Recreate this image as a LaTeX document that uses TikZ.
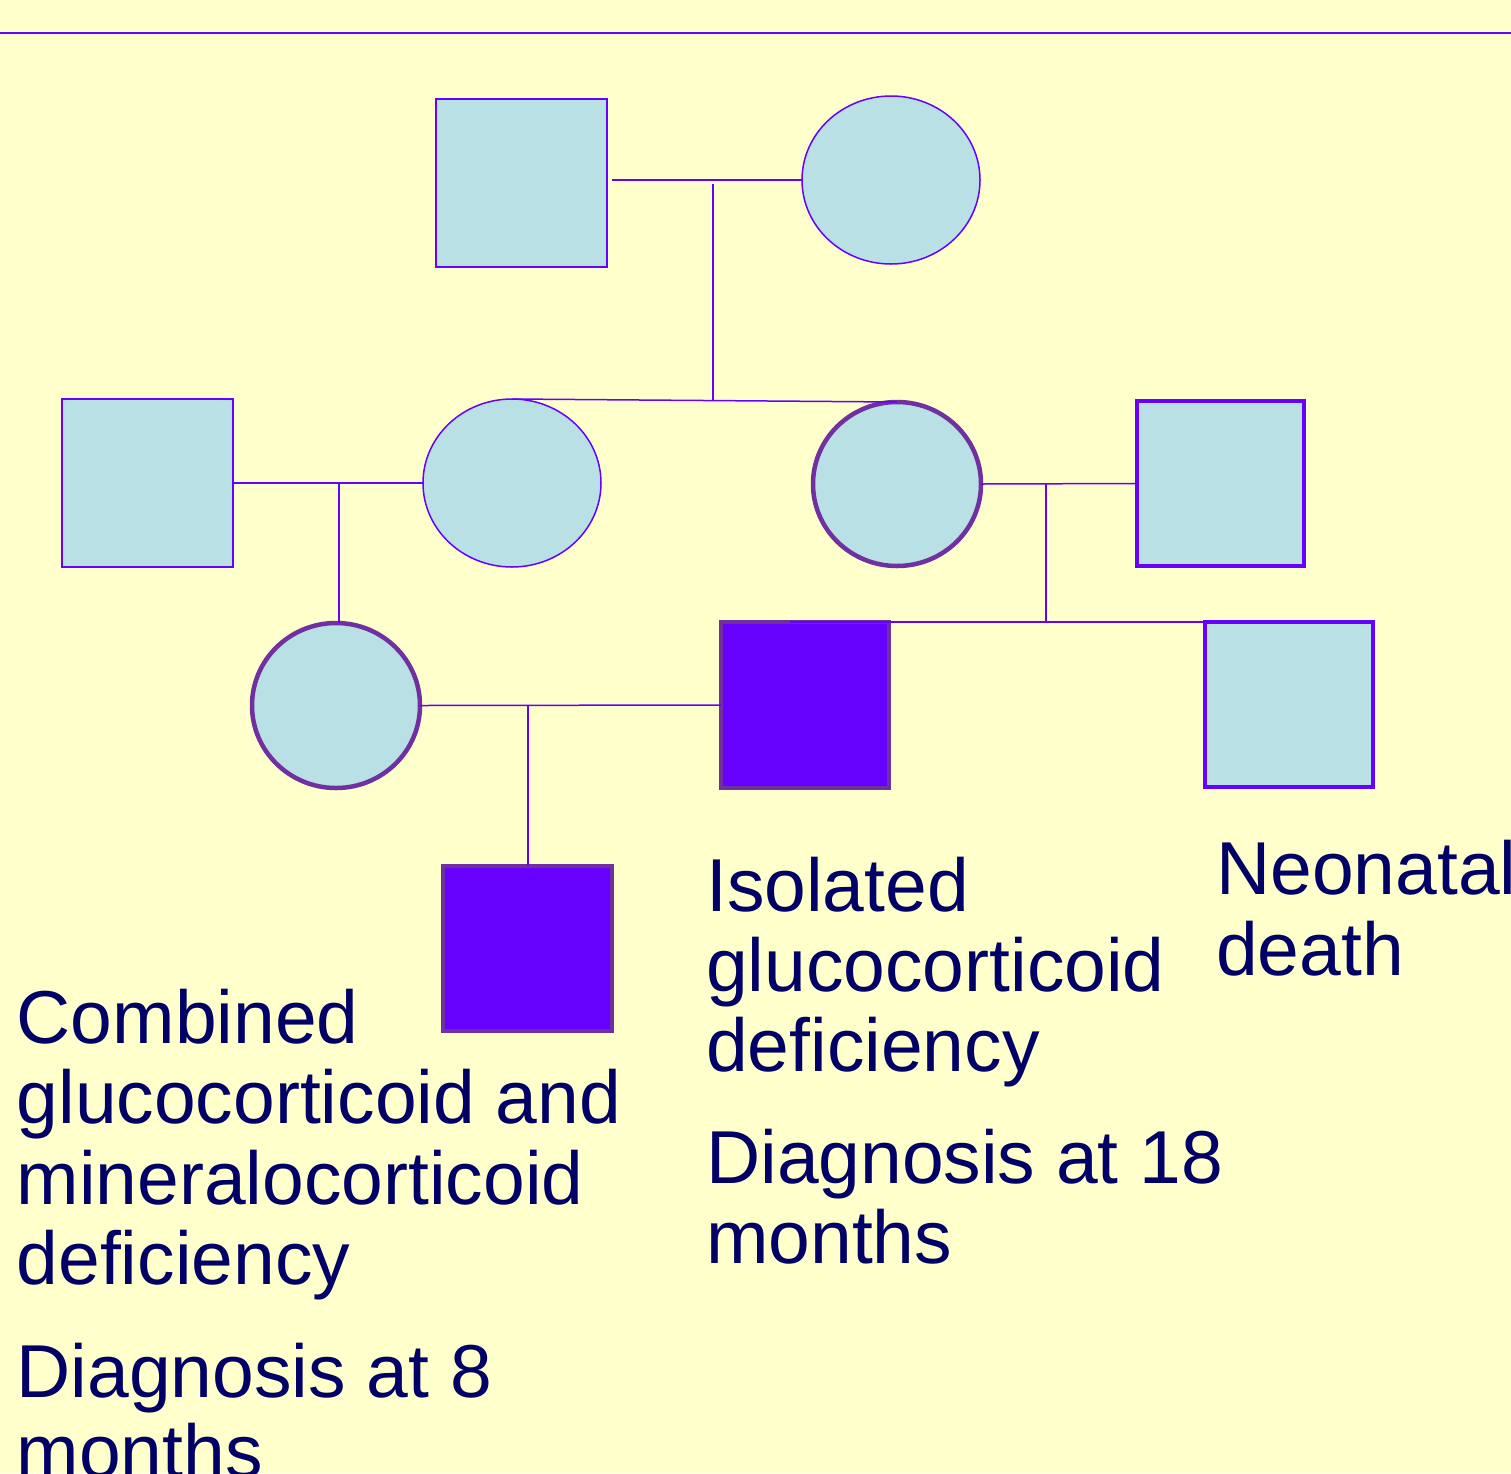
\documentclass[tikz,border=0pt]{standalone}
\usepackage{fontspec}
\setmainfont{Liberation Sans}
\usetikzlibrary{shapes.geometric}
\definecolor{bgyel}{HTML}{FFFFCC}
\definecolor{lblue}{HTML}{B9E0E4}
\definecolor{vio}{HTML}{6600FF}
\definecolor{pur}{HTML}{7030A0}
\definecolor{navy}{HTML}{000066}
\tikzset{
  base/.style={inner sep=0pt, outer sep=0pt, fill=lblue, draw=vio, line width=1.5pt},
  male/.style={base, rectangle},
  female/.style={base, ellipse},
  thickpur/.style={draw=pur, line width=4.5pt},
  thickvio/.style={draw=vio, line width=4.5pt},
  affected/.style={base, rectangle, fill=vio, draw=pur, line width=4.5pt},
  link/.style={draw=vio, line width=1.5pt},
  lbl/.style={anchor=base west, inner sep=0pt, text=navy, font=\fontsize{75pt}{80pt}\selectfont}
}
\begin{document}
\begin{tikzpicture}[x=1pt,y=-1pt]
\fill[bgyel] (0,0) rectangle (1511,1473);
\useasboundingbox (0,0) rectangle (1511,1473);
\coordinate (tl) at (0,33);
\coordinate (tr) at (1511,33);
\draw[link] (tl) -- (tr);

% generation 1
\node[male, minimum width=171pt, minimum height=168pt] (gf) at (521.5,183) {};
\node[female, minimum width=178pt, minimum height=168pt] (gm) at (891,180) {};
% generation 2
\node[male, minimum width=171pt, minimum height=168pt] (g2a) at (147.5,483) {};
\node[female, minimum width=178pt, minimum height=168pt] (g2b) at (512,483) {};
\node[female, thickpur, minimum width=168pt, minimum height=164pt] (g2c) at (897,484) {};
\node[male, thickvio, minimum width=167pt, minimum height=165pt] (g2d) at (1220.5,483.5) {};
% generation 3
\node[female, thickpur, minimum width=168pt, minimum height=165pt] (g3a) at (336,705.5) {};
\node[affected, minimum width=168pt, minimum height=166pt] (g3b) at (805,705) {};
\node[male, thickvio, minimum width=168pt, minimum height=165pt] (g3c) at (1289,704.5) {};
% generation 4
\node[affected, minimum width=169pt, minimum height=165pt] (g4) at (527.5,948.5) {};

% connectors
\coordinate (m1) at (713,184);
\coordinate (s1) at (713,401);
\coordinate (m2) at (339,483);
\coordinate (m3) at (1046,484);
\coordinate (s3) at (1046,621);
\coordinate (m4) at (528,705);
\draw[link] ([xshift=5pt]gf.east |- gm.west) -- (gm.west);
\draw[link] (m1) -- (s1);
\draw[link] (g2b.north) -- (g2c.north);
\draw[link] (g2a.east) -- (g2b.west);
\draw[link] (m2) -- (m2 |- g3a.north);
\draw[link] (g2c.east) -- (g2d.west);
\draw[link] (m3) -- (s3);
\draw[link] ([xshift=-15pt]g3b.north) -- (g3c.north west);
\draw[link] (g3a.east) -- (g3b.west);
\draw[link] (m4) -- (m4 |- g4.north);

% labels
\node[lbl] (c1) at (16.5,1043) {Combined};
\node[lbl] (c2) at (16.5,1123.5) {glucocorticoid and};
\node[lbl] (c3) at (16.5,1204) {mineralocorticoid};
\node[lbl] (c4) at (16.5,1284) {deficiency};
\node[lbl] (d1) at (16.5,1397) {Diagnosis at 8};
\node[lbl] (d2) at (16.5,1477) {months};

\node[lbl] (i1) at (706,911) {Isolated};
\node[lbl] (i2) at (706,991) {glucocorticoid};
\node[lbl] (i3) at (706,1071) {deficiency};
\node[lbl] (e1) at (706,1183) {Diagnosis at 18};
\node[lbl] (e2) at (706,1263) {months};

\node[lbl] (n1) at (1216,894) {Neonatal};
\node[lbl] (n2) at (1216,975) {death};
\end{tikzpicture}
\end{document}
